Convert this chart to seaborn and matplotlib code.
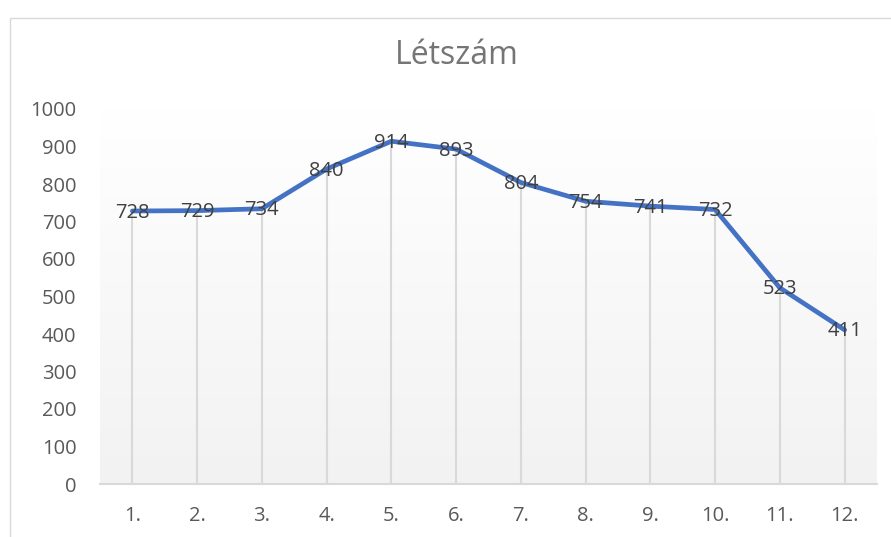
import numpy as np
import pandas as pd
import matplotlib
matplotlib.use("Agg")
import matplotlib.pyplot as plt
import seaborn as sns
from matplotlib.patches import Rectangle

# data
honapok = ["1.", "2.", "3.", "4.", "5.", "6.", "7.", "8.", "9.", "10.", "11.", "12."]
letszam = [728, 729, 734, 840, 914, 893, 804, 754, 741, 732, 523, 411]
y_ticks = [0, 100, 200, 300, 400, 500, 600, 700, 800, 900, 1000]

df = pd.DataFrame({"honap": honapok, "letszam": letszam})
df["pos"] = np.arange(len(df))

sns.set_theme(style="white")
plt.rcParams['font.family'] = ['Open Sans', 'DejaVu Sans']

fig = plt.figure(figsize=(8.91, 5.37), dpi=100)
fig.patch.set_facecolor("white")
# chart border (Excel-like)
fig.patches.append(Rectangle((10 / 891, -0.1), 1.2, (537 - 18) / 537 + 0.1,
                             transform=fig.transFigure, fill=False,
                             edgecolor="#d9d9d9", lw=1.0))

ax = fig.add_axes([100 / 891, (537 - 484) / 537, 777 / 891, 375 / 537])

# gradient background of plot area
grad = np.linspace(1, 0, 256).reshape(-1, 1)
ax.imshow(grad, extent=[-0.5, 11.5, 0, 1000], aspect="auto", origin="upper",
          cmap=matplotlib.colors.LinearSegmentedColormap.from_list(
              "g", ["#f2f2f2", "#ffffff"]), zorder=0)

# drop lines
ax.vlines(df["pos"], 0, df["letszam"], color="#d9d9d9", lw=1.5, zorder=1)

sns.lineplot(data=df, x="pos", y="letszam", ax=ax, color="#4472C4", lw=3.4,
             zorder=3, solid_capstyle="round", solid_joinstyle="round")

for x, v in zip(df["pos"], df["letszam"]):
    ax.text(x, v - 4, str(v), ha="center", va="center", fontsize=14.5,
            color="#404040", zorder=4)

ax.set_xlim(-0.5, 11.5)
ax.set_ylim(0, 1000)
ax.set_xticks(df["pos"])
ax.set_xticklabels(honapok)
ax.set_yticks(y_ticks)
ax.tick_params(axis="both", length=0, labelsize=14.5, colors="#595959")
ax.tick_params(axis="x", pad=16)
ax.tick_params(axis="y", pad=17)
ax.set_xlabel("")
ax.set_ylabel("")
for s in ["top", "right", "left"]:
    ax.spines[s].set_visible(False)
ax.spines["bottom"].set_color("#d9d9d9")
ax.spines["bottom"].set_linewidth(1.5)
ax.set_facecolor("white")

fig.text(457 / 891, 1 - 56 / 537, "Létszám", ha="center", va="center",
         fontsize=23, color="#757575")

fig.savefig("out.png", dpi=100)
